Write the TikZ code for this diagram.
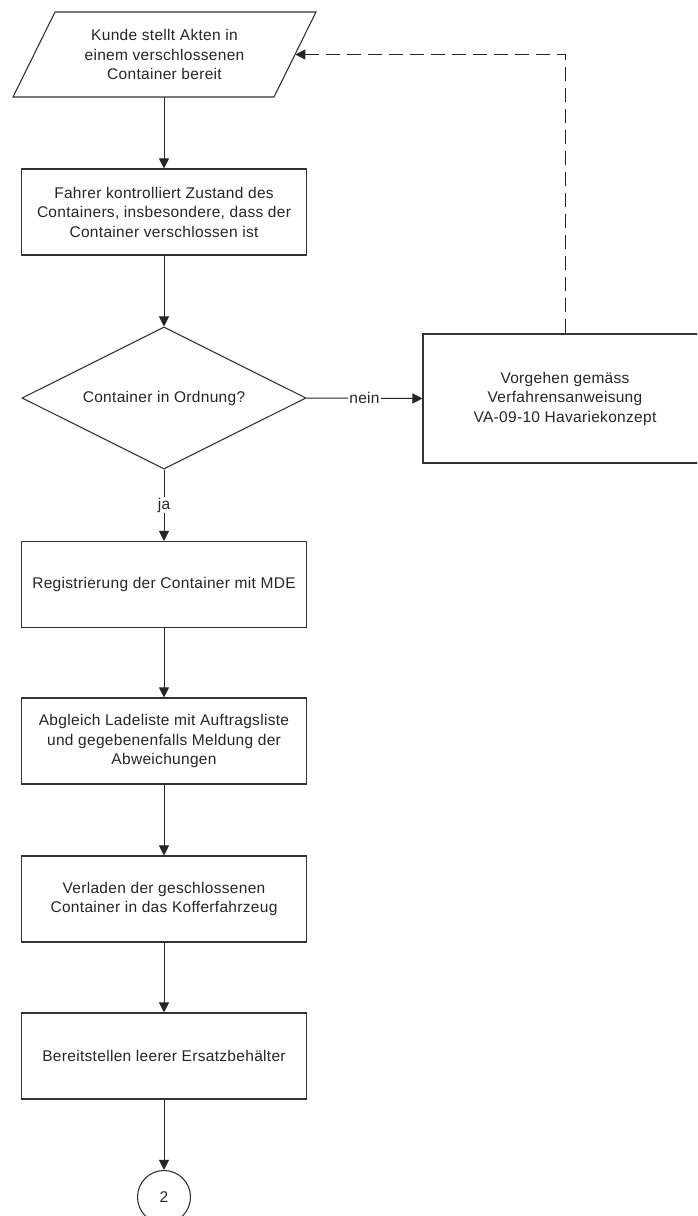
\documentclass[tikz,border=0pt]{standalone}
\usepackage{fontspec}
\setmainfont{Liberation Sans}[LetterSpace=2.0]
\usetikzlibrary{arrows.meta,shapes.geometric}
\begin{document}
\begin{tikzpicture}[x=1pt,y=-1pt,
  every node/.style={font=\fontsize{15.5}{19.5}\selectfont, text=black!85},
  outline/.style={draw=black!80, line width=1.1pt},
  proc/.style={outline, rectangle, minimum width=285pt, minimum height=86pt,
    inner sep=0pt, align=center, fill=white},
  decision/.style={outline, diamond, minimum width=284pt, minimum height=142pt,
    inner sep=0pt, aspect=2, align=center},
  connector/.style={outline, circle, minimum size=53pt, inner sep=0pt},
  flow/.style={draw=black!85, line width=1pt, -{Triangle[length=10pt,width=10pt]}},
  feedback/.style={flow, dash pattern=on 14pt off 7pt},
  edgelabel/.style={fill=white, inner sep=1pt}
]
\clip (0,0) rectangle (697,1216);
\fill[white] (0,0) rectangle (697,1216);

% input (parallelogram)
\draw[outline] (55,12) -- (316,12) -- (274,97) -- (13,97) -- cycle;
\node[align=center] (input) at (164.5,54.5)
  {Kunde stellt Akten in\\einem verschlossenen\\Container bereit};
\coordinate (inputS) at (164,97);
\coordinate (inputE) at (295.3,54.5);

% process steps
\node[proc] (check) at (164,212)
  {Fahrer kontrolliert Zustand des\\Containers, insbesondere, dass der\\Container verschlossen ist};
\node[decision] (ok) at (164,398) {Container in Ordnung?};
\node[proc, minimum width=284pt, minimum height=129pt] (hav) at (565,398.5)
  {Vorgehen gemäss\\Verfahrensanweisung\\VA-09-10 Havariekonzept};
\node[proc] (reg) at (164,584.5) {Registrierung der Container mit MDE};
\node[proc] (abgl) at (164,741)
  {Abgleich Ladeliste mit Auftragsliste\\und gegebenenfalls Meldung der\\Abweichungen};
\node[proc] (load) at (164,899)
  {Verladen der geschlossenen\\Container in das Kofferfahrzeug};
\node[proc] (spare) at (164,1056) {Bereitstellen leerer Ersatzbehälter};
\node[connector] (next) at (164,1197) {2};

% connectors
\draw[flow] (inputS) -- (check.north);
\draw[flow] (check.south) -- (ok.north);
\draw[flow] (ok.east) -- node[edgelabel] {nein} (hav.west);
\draw[flow] (ok.south) -- node[edgelabel] {ja} (reg.north);
\draw[feedback] (hav.north) |- (inputE);
\draw[flow] (reg.south) -- (abgl.north);
\draw[flow] (abgl.south) -- (load.north);
\draw[flow] (load.south) -- (spare.north);
\draw[flow] (spare.south) -- (next.north);
\end{tikzpicture}
\end{document}
